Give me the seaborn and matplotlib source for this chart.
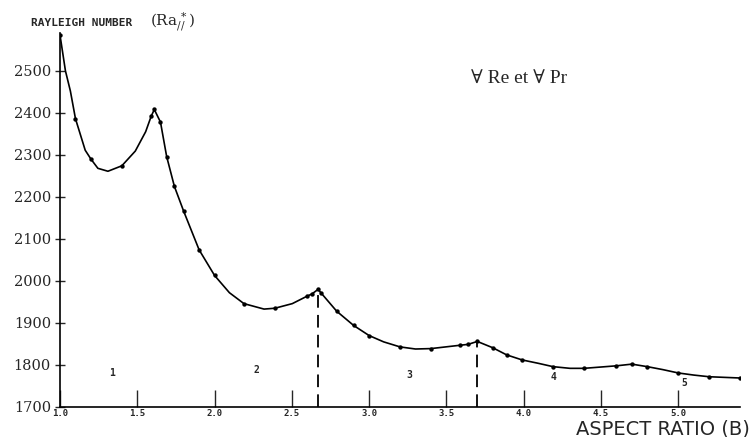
import numpy as np
import pandas as pd
import matplotlib
matplotlib.use("Agg")
import matplotlib.pyplot as plt
import seaborn as sns

# measured points (dots on the curve)
b_pts = [1.00, 1.10, 1.20, 1.40, 1.59, 1.61, 1.65, 1.69, 1.74, 1.80, 1.90, 2.00,
         2.19, 2.39, 2.60, 2.63, 2.67, 2.69, 2.79, 2.90, 3.00, 3.20, 3.40, 3.59,
         3.64, 3.70, 3.80, 3.89, 3.99, 4.19, 4.39, 4.60, 4.70, 4.80, 5.00, 5.20, 5.40]
ra_pts = [2585, 2386, 2290, 2274, 2392, 2408, 2378, 2296, 2225, 2166, 2074, 2013,
          1946, 1935, 1964, 1969, 1980, 1971, 1928, 1894, 1870, 1843, 1839, 1847,
          1849, 1856, 1841, 1824, 1812, 1796, 1792, 1798, 1802, 1796, 1781, 1772, 1769]

# extra positions
b_curve = [1.035, 1.067, 1.163, 1.245, 1.31, 1.487, 1.554, 2.096, 2.32, 2.503,
           3.094, 3.30, 4.094, 4.30, 4.90, 5.10]
ra_curve = [2500, 2452, 2311, 2268, 2261, 2309, 2355, 1972, 1933, 1946,
            1855, 1838, 1804, 1792, 1789, 1776]

# cusps marking mode changes (dashed lines)
peak_idx = [16, 25]

# mode number labels
mode_labels = ["1", "2", "3", "4", "5"]
mode_b = [1.335, 2.27, 3.26, 4.19, 5.04]
mode_ra = [1780, 1788, 1776, 1772, 1758]

yticks = list(range(1700, 2501, 100))
xticks = [1.0, 1.5, 2.0, 2.5, 3.0, 3.5, 4.0, 4.5, 5.0]

sns.set_style("ticks")
plt.rcParams["mathtext.fontset"] = "dejavuserif"

pts = pd.DataFrame({"B": b_pts, "Ra": ra_pts})
line = pd.concat([pts, pd.DataFrame({"B": b_curve, "Ra": ra_curve})]).sort_values("B")

fig = plt.figure(figsize=(7.54, 4.37), dpi=100)
ax = fig.add_axes([0.0796, 1 - 407 / 437, 0.9019, (407 - 33) / 437])

sns.lineplot(data=line, x="B", y="Ra", ax=ax, color="black", lw=1.2,
             sort=False, estimator=None)
sns.scatterplot(data=pts, x="B", y="Ra", ax=ax, color="black", s=10,
                edgecolor="black", linewidth=0, zorder=3)

peak_b = [b_pts[i] for i in peak_idx]
peak_ra = [ra_pts[i] for i in peak_idx]
ax.vlines(peak_b, 1700, peak_ra, colors="black", lw=1.3, linestyles=(0, (7, 4)))

for lab, xb, yr in zip(mode_labels, mode_b, mode_ra):
    ax.text(xb, yr, lab, fontsize=7, fontweight="bold", family="DejaVu Sans Mono",
            ha="center", va="center")

ax.set_xlim(1.0, 5.4)
ax.set_ylim(1700, 2590)
ax.set_yticks(yticks)
ax.set_yticklabels([str(v) for v in yticks], family="DejaVu Serif", fontsize=10.5)
ax.set_xticks(xticks)
ax.set_xticklabels([f"{v:.1f}" for v in xticks], family="DejaVu Sans Mono",
                   fontsize=6.5, fontweight="bold")
ax.tick_params(axis="y", direction="inout", length=7, width=1, pad=3)
ax.tick_params(axis="x", direction="in", length=12, width=1, pad=1.5)
ax.set_xlabel("")
ax.set_ylabel("")
sns.despine(ax=ax)
for s in ["left", "bottom"]:
    ax.spines[s].set_linewidth(1.2)
    ax.spines[s].set_color("black")

fig.text(31 / 754, 1 - 26 / 437, "RAYLEIGH NUMBER", family="DejaVu Sans Mono",
         fontweight="bold", fontsize=8, ha="left", va="baseline")
fig.text(150 / 754, 1 - 26 / 437, r"$(\mathrm{Ra}_{//}^{\,*})$", fontsize=11,
         ha="left", va="baseline")
fig.text(519 / 754, 1 - 78 / 437, "∀ Re et ∀ Pr", family=["Liberation Serif", "DejaVu Serif"],
         fontsize=14, ha="center", va="center")
fig.text(750 / 754, 1 - 434.5 / 437, "ASPECT RATIO (B)", family="DejaVu Sans", fontsize=14,
         ha="right", va="baseline")

fig.savefig("out.png", dpi=100, facecolor="white")
